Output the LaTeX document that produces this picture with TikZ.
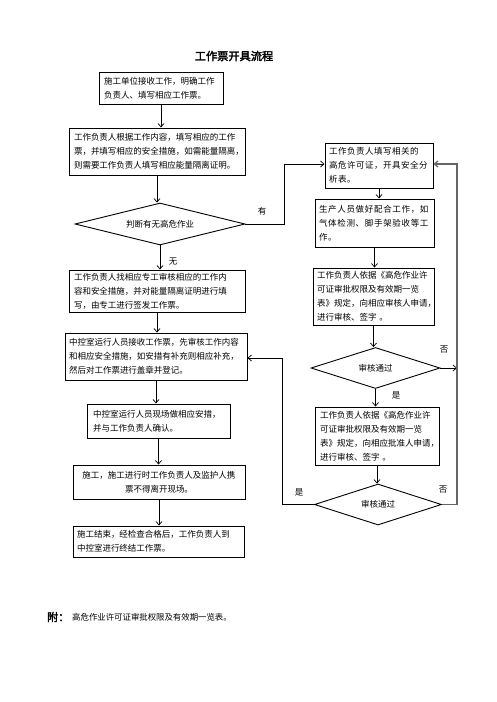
\documentclass[tikz,border=0pt]{standalone}
\usepackage{fontspec}
\usetikzlibrary{arrows.meta,shapes.geometric}
\newfontfamily\cjk{Noto Sans CJK SC}
\newfontfamily\cjkwide[LetterSpace=6]{Noto Sans CJK SC}
\newfontfamily\cjkmid[LetterSpace=8]{Noto Sans CJK SC}
\newfontfamily\cjkbold[FakeBold=2.5]{Noto Sans CJK SC}
\begin{document}
\begin{tikzpicture}[x=1pt,y=-1pt,
  box/.style={draw, line width=1pt, inner sep=0pt, align=left,
    font=\cjk\fontsize{8.5}{14}\selectfont},
  dia/.style={draw, diamond, aspect=3, line width=0.9pt, inner sep=0pt,
    font=\cjk\fontsize{8.5}{12}\selectfont},
  arr/.style={line width=0.7pt, -{Straight Barb[length=3.5pt,width=6pt]}},
  lab/.style={font=\cjk\fontsize{8.5}{10}\selectfont, inner sep=0pt}]
\useasboundingbox[fill=white] (0,0) rectangle (496,702);

\node[font=\cjkbold\fontsize{11.2}{13}\selectfont] (title) at (234,56) {工作票开具流程};

% left column
\node[box, minimum width=124pt, minimum height=32pt, text width=114pt] (b1) at (161,88)
  {施工单位接收工作，明确工作\\负责人、填写相应工作票。};
\node[box, minimum width=176pt, minimum height=47pt, text width=166pt] (b2) at (157,151.5)
  {工作负责人根据工作内容，填写相应的工作\\票，并填写相应的安全措施，如需能量隔离，\\则需要工作负责人填写相应能量隔离证明。};
\node[dia, minimum width=170pt, minimum height=42pt] (d1) at (160,224) {判断有无高危作业};
\node[box, minimum width=176pt, minimum height=42pt, text width=166pt] (b3) at (157,291)
  {工作负责人找相应专工审核相应的工作内\\容和安全措施，并对能量隔离证明进行填\\写，由专工进行签发工作票。};
\node[box, minimum width=182pt, minimum height=47pt, text width=174pt] (b4) at (156,356.5)
  {中控室运行人员接收工作票，先审核工作内容\\和相应安全措施，如安措有补充则相应补充，\\然后对工作票进行盖章并登记。};
\node[box, minimum width=143pt, minimum height=34pt, text width=131pt] (b5) at (158.5,421)
  {中控室运行人员现场做相应安措，\\并与工作负责人确认。};
\node[box, align=center, minimum width=172pt, minimum height=34pt, text width=164pt] (b6) at (159,482)
  {施工，施工进行时工作负责人及监护人携\\票不得离开现场。};
\node[box, minimum width=171pt, minimum height=31pt, text width=163pt] (b7) at (158.5,541.5)
  {施工结束，经检查合格后，工作负责人到\\中控室进行终结工作票。};

% right column
\node[box, font=\cjkwide\fontsize{8.5}{14}\selectfont, minimum width=108pt, minimum height=45pt, text width=100pt] (r1) at (379,165.5)
  {工作负责人填写相关的\\高危许可证，开具安全分\\析表。};
\node[box, font=\cjkmid\fontsize{8.5}{14}\selectfont, minimum width=119pt, minimum height=48pt, text width=111pt] (r2) at (374.5,223)
  {生产人员做好配合工作，如\\气体检测、脚手架验收等工\\作。};
\node[box, minimum width=121pt, minimum height=57pt, text width=113pt] (r3) at (373.5,296.5)
  {工作负责人依据《高危作业许\\可证审批权限及有效期一览\\表》规定，向相应审核人申请，\\进行审核、签字 。};
\node[dia, minimum width=129pt, minimum height=41pt] (d2) at (375.5,368) {审核通过};
\node[box, minimum width=124pt, minimum height=58pt, text width=114pt] (r4) at (377,436)
  {工作负责人依据《高危作业许\\可证审批权限及有效期一览\\表》规定，向相应批准人申请，\\进行审核、签字 。};
\node[dia, minimum width=127pt, minimum height=41pt] (d3) at (378,504.5) {审核通过};

% coordinates for loops
\coordinate (c1) at (284,224);
\coordinate (c2) at (284,164);
\coordinate (c3) at (457,368);
\coordinate (c4) at (457,504.5);
\coordinate (c5) at (457,164);
\coordinate (c6) at (282,504.5);
\coordinate (c7) at (282,358);

% main flow arrows
\draw[arr] (b1.south) -- (b1.south |- b2.north);
\draw[arr] (b2.south) -- (b2.south |- d1.north);
\draw[arr] (d1.south) -- (d1.south |- b3.north);
\draw[arr] (b3.south) -- (b3.south |- b4.north);
\draw[arr] (b4.south) -- (b4.south |- b5.north);
\draw[arr] (b5.south) -- (b5.south |- b6.north);
\draw[arr] (b6.south) -- (b6.south |- b7.north);

\draw[arr] (r1.south) -- (r1.south |- r2.north);
\draw[arr] (r2.south) -- (r2.south |- r3.north);
\draw[arr] (r3.south) -- (r3.south |- d2.north);
\draw[arr] (d2.south) -- (d2.south |- r4.north);
\draw[arr] (r4.south) -- (r4.south |- d3.north);

% loops
\draw[arr] (d1.east) -- (c1) -- (c2) -- (c2 -| r1.west);
\draw[arr] (d2.east) -- (c3);
\draw[arr, draw=black!60, line width=1.2pt] (d3.east) -- (c4) -- (c5) -- (c5 -| r1.east);
\draw[arr] (d3.west) -- (c6) -- (c7) -- (c7 -| b4.east);

% labels
\node[lab] (l1) at (262,211) {有};
\node[lab] (l2) at (173,262) {无};
\node[lab] (l3) at (444,350) {否};
\node[lab] (l4) at (396,395) {是};
\node[lab] (l5) at (299,492) {是};
\node[lab] (l6) at (443,490) {否};

% footer
\node[anchor=west, inner sep=0pt, font=\cjkbold\fontsize{11}{13}\selectfont] (fu) at (47,617) {附：};
\node[anchor=west, inner sep=0pt, font=\cjk\fontsize{8.4}{10}\selectfont] (ft) at (72,617) {高危作业许可证审批权限及有效期一览表。};
\end{tikzpicture}
\end{document}
